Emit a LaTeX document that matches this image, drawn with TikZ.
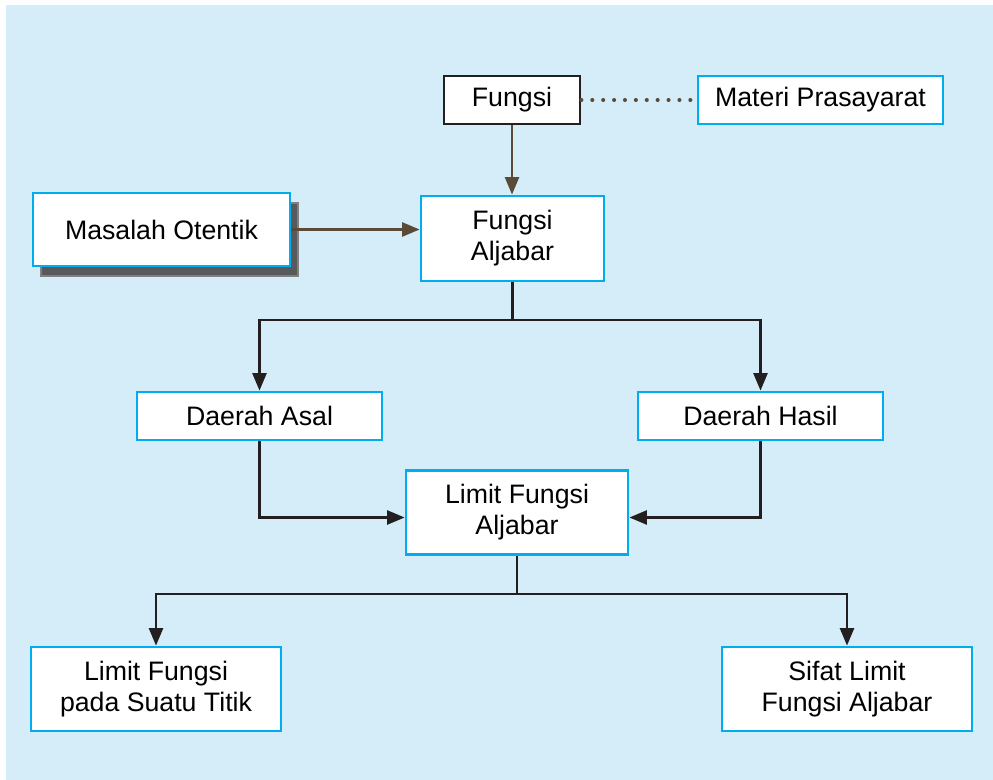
\documentclass[tikz,border=0pt]{standalone}
\usepackage{fontspec}
\setmainfont{Liberation Sans}
\usetikzlibrary{arrows.meta,shadows}
\definecolor{bgblue}{HTML}{D5ECF9}
\definecolor{boxcyan}{HTML}{00AEEF}
\definecolor{linebrown}{HTML}{5B4A37}
\definecolor{lineblack}{HTML}{231F20}
\definecolor{shadowgray}{HTML}{58595B}
\begin{document}
\begin{tikzpicture}[x=0.02cm,y=-0.02cm,
    box/.style={draw=boxcyan,fill=white,line width=1.6pt,align=center,inner sep=0pt,
      font=\fontsize{15.2}{17.6}\selectfont},
    link/.style={draw=lineblack,line width=1.4pt,-{Triangle[length=10pt,width=8pt]}},
    brownlink/.style={draw=linebrown,line width=1.4pt,-{Triangle[length=10pt,width=8pt]}}]
  \useasboundingbox (0,0) rectangle (993,780);
  \fill[bgblue] (6,5) rectangle (993,780);
  % top row
  \node[box,draw=lineblack,minimum width=2.72cm,minimum height=0.96cm] (fungsi) at (512,100) {Fungsi};
  \node[box,minimum width=4.9cm,minimum height=0.96cm] (prasyarat) at (820.5,100) {Materi Prasayarat};
  \node[box,minimum width=5.14cm,minimum height=1.46cm,
    drop shadow={shadow xshift=0.16cm,shadow yshift=-0.2cm,opacity=1,
      fill=shadowgray,draw=gray,line width=1pt}] (otentik) at (161.5,229.5) {Masalah Otentik};
  \node[box,minimum width=3.66cm,minimum height=1.7cm] (aljabar) at (512.5,238.5) {Fungsi\\Aljabar};
  % middle
  \node[box,minimum width=4.9cm,minimum height=0.96cm] (asal) at (259.5,416) {Daerah Asal};
  \node[box,minimum width=4.9cm,minimum height=0.96cm] (hasil) at (760.5,416) {Daerah Hasil};
  \node[box,minimum width=4.44cm,minimum height=1.68cm] (limit) at (517,512.5) {Limit Fungsi\\Aljabar};
  % bottom row
  \node[box,minimum width=5cm,minimum height=1.68cm] (titik) at (156,689) {Limit Fungsi\\pada Suatu Titik};
  \node[box,minimum width=5cm,minimum height=1.68cm] (sifat) at (847,689) {Sifat Limit\\Fungsi Aljabar};
  \coordinate (split1) at (512.5,320);
  \coordinate (split2) at (517,594);
  % connectors
  \draw[linebrown,line width=2.3pt,line cap=round,dash pattern=on 0pt off 6.2pt]
    (fungsi.east) -- (prasyarat.west);
  \draw[brownlink] (fungsi.south) -- (fungsi.south |- aljabar.north);
  \draw[brownlink] (otentik.east) -- (otentik.east -| aljabar.west);
  \draw[link] (aljabar.south) -- (split1) -| (asal.north);
  \draw[link] (split1) -| (hasil.north);
  \draw[link] (asal.south) |- ([yshift=-0.1cm]limit.west);
  \draw[link] (hasil.south) |- ([yshift=-0.1cm]limit.east);
  \draw[link] (limit.south) -- (split2) -| (titik.north);
  \draw[link] (split2) -| (sifat.north);
\end{tikzpicture}
\end{document}
